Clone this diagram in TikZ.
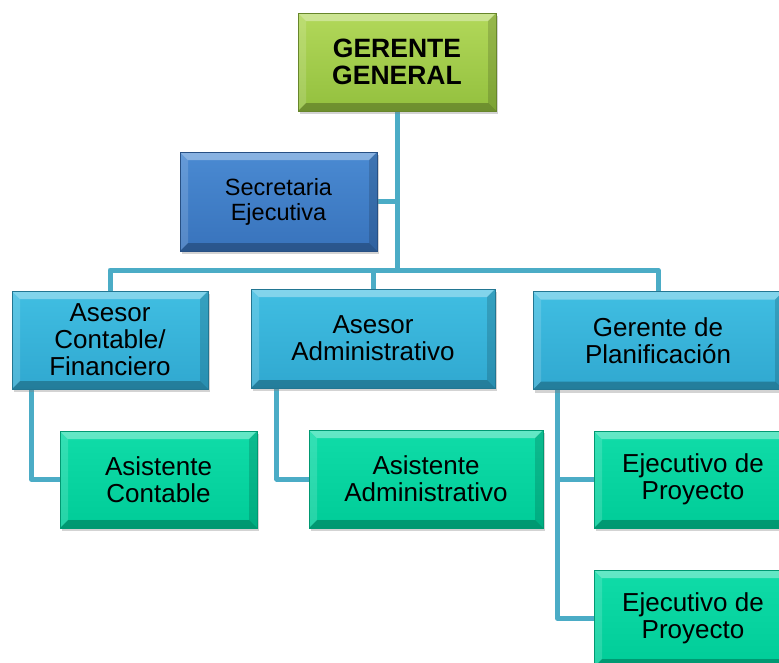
\documentclass[tikz,border=0pt]{standalone}
\usepackage{fontspec}
\setmainfont{Liberation Sans}
\usetikzlibrary{shadows,backgrounds}

\definecolor{conn}{HTML}{4BACC6}
\definecolor{gglight}{HTML}{B2D85A}
\definecolor{ggdark}{HTML}{93C03E}
\definecolor{seclight}{HTML}{4A8AD2}
\definecolor{secdark}{HTML}{3873BC}
\definecolor{aslight}{HTML}{40BEE2}
\definecolor{asdark}{HTML}{30A8D0}
\definecolor{tllight}{HTML}{10DCA8}
\definecolor{tldark}{HTML}{00CC98}

% beveled faces of a box
\newcommand\bevelfaces{%
  \fill[white,opacity=.35] (path picture bounding box.north west) -- (path picture bounding box.north east)
    -- ([xshift=-8pt,yshift=-8pt]path picture bounding box.north east) -- ([xshift=8pt,yshift=-8pt]path picture bounding box.north west) -- cycle;
  \fill[white,opacity=.15] (path picture bounding box.north west) -- (path picture bounding box.south west)
    -- ([xshift=8pt,yshift=8pt]path picture bounding box.south west) -- ([xshift=8pt,yshift=-8pt]path picture bounding box.north west) -- cycle;
  \fill[black,opacity=.15] (path picture bounding box.north east) -- (path picture bounding box.south east)
    -- ([xshift=-8pt,yshift=8pt]path picture bounding box.south east) -- ([xshift=-8pt,yshift=-8pt]path picture bounding box.north east) -- cycle;
  \fill[black,opacity=.25] (path picture bounding box.south west) -- (path picture bounding box.south east)
    -- ([xshift=-8pt,yshift=8pt]path picture bounding box.south east) -- ([xshift=8pt,yshift=8pt]path picture bounding box.south west) -- cycle;
}

\begin{document}
\begin{tikzpicture}[x=1pt,y=-1pt,
  box/.style = {rectangle, align=center, inner sep=0pt, line width=0.6pt,
    font=\fontsize{26}{27}\selectfont, path picture={\bevelfaces},
    drop shadow={shadow xshift=1.5pt, shadow yshift=-3pt, opacity=.35}},
  topbox/.style = {box, draw=ggdark!70!black, top color=gglight, bottom color=ggdark,
    font=\fontsize{26.5}{27}\selectfont\bfseries},
  secbox/.style = {box, draw=secdark!70!black, top color=seclight, bottom color=secdark,
    font=\fontsize{23.5}{25}\selectfont},
  headbox/.style = {box, draw=asdark!70!black, top color=aslight, bottom color=asdark},
  staffbox/.style = {box, draw=tldark!75!black, top color=tllight, bottom color=tldark},
  link/.style = {draw=conn, line width=5pt, line join=round}]
\useasboundingbox (0,0) rectangle (779,662);

\node[topbox, minimum width=198pt, minimum height=98pt] (gg) at (397,62) {GERENTE\\GENERAL};
\node[secbox, minimum width=197pt, minimum height=99pt] (sec) at (278.5,201.5) {Secretaria\\Ejecutiva};

\node[headbox, minimum width=196pt, minimum height=98pt] (ac) at (110,340) {Asesor\\Contable/\\Financiero};
\node[headbox, minimum width=244pt, minimum height=99pt] (aa) at (373,338.5) {Asesor\\Administrativo};
\node[headbox, minimum width=250pt, minimum height=98pt] (gp) at (658,340.5) {Gerente de\\Planificación};

\node[staffbox, minimum width=197pt, minimum height=97pt] (asc) at (158.5,479.5) {Asistente\\Contable};
\node[staffbox, minimum width=234pt, minimum height=98pt] (asa) at (426,479) {Asistente\\Administrativo};
\node[staffbox, minimum width=198pt, minimum height=97pt] (ep1) at (693,479.5) {Ejecutivo de\\Proyecto};
\node[staffbox, minimum width=198pt, minimum height=97pt] (ep2) at (693,618.5) {Ejecutivo de\\Proyecto};

\coordinate (bus) at (397,270);

\begin{pgfonlayer}{background}
\path[link] (gg.south) -- (bus);
\path[link] (sec.east) -- (sec.east -| gg.south);
\path[link] (ac.north) |- (bus) -| (gp.north);
\path[link] (aa.north) -- (aa.north |- bus);
% staff branches
\path[link] ([xshift=20pt]ac.south west) |- (asc.west);
\path[link] ([xshift=26pt]aa.south west) |- (asa.west);
\coordinate (gpdrop) at ([xshift=25pt]gp.south west);
\path[link] (gpdrop) |- (ep2.west);
\path[link] (ep1.west) -- (ep1.west -| gpdrop);
\end{pgfonlayer}
\end{tikzpicture}
\end{document}
